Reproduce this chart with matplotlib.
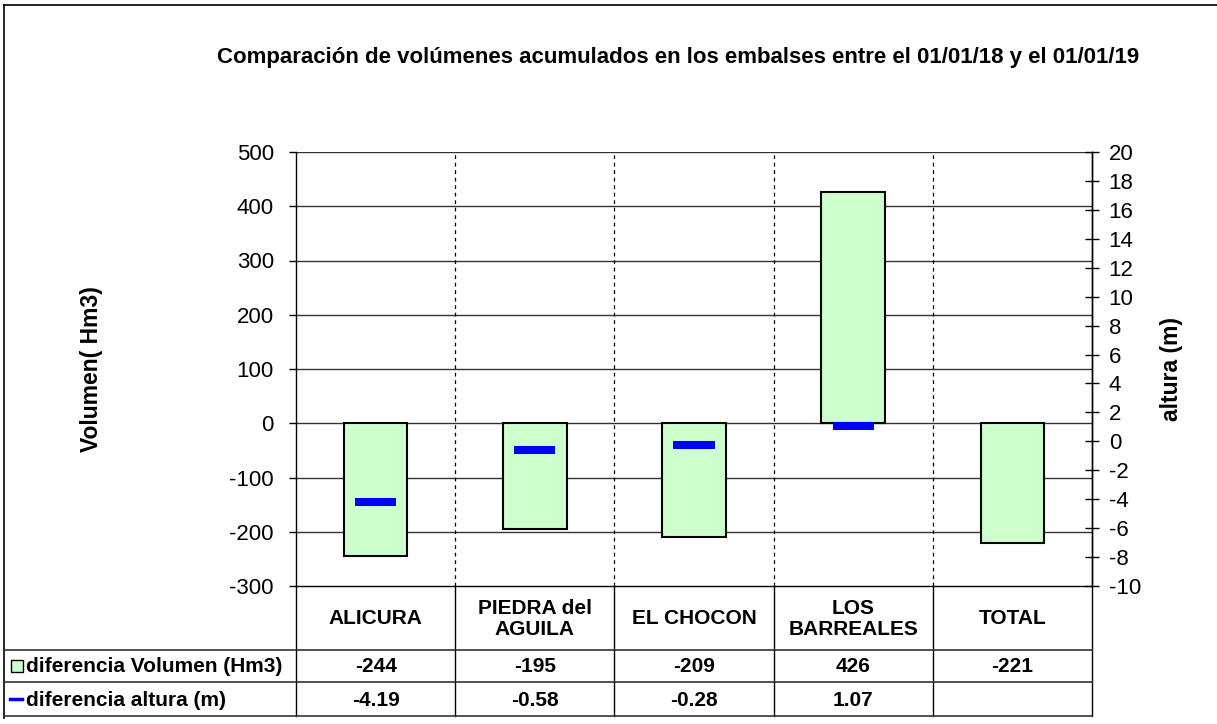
import matplotlib
matplotlib.use("Agg")
import matplotlib.pyplot as plt
from matplotlib.patches import Rectangle
from matplotlib.lines import Line2D

plt.rcParams['font.family'] = ['Liberation Sans', 'DejaVu Sans']
plt.rcParams['axes.unicode_minus'] = False

categories = ["ALICURA", "PIEDRA del\nAGUILA", "EL CHOCON", "LOS\nBARREALES", "TOTAL"]
volumen = [-244, -195, -209, 426, -221]
altura = [-4.19, -0.58, -0.28, 1.07, None]
vol_labels = ["-244", "-195", "-209", "426", "-221"]
alt_labels = ["-4.19", "-0.58", "-0.28", "1.07", ""]
row_labels = ["diferencia Volumen (Hm3)", "diferencia altura (m)"]
title = "Comparación de volúmenes acumulados en los embalses entre el 01/01/18 y el 01/01/19"

W, H = 1217, 724
fig = plt.figure(figsize=(W / 100, H / 100), dpi=100)

def fx(px):
    return px / W

def fy(py):
    return 1 - py / H

# outer frame
fig.add_artist(Line2D([fx(4), fx(4)], [fy(5), fy(718)], color='black', lw=1.2))
fig.add_artist(Line2D([fx(4), 1], [fy(5), fy(5)], color='black', lw=1.2))

x0, x1, ytop, ybot = 296, 1092, 152, 586
ax = fig.add_axes([fx(x0), fy(ybot), fx(x1 - x0), (ybot - ytop) / H])
n = len(categories)
xs = list(range(n))
ax.set_xlim(-0.5, n - 0.5)
ax.set_ylim(-300, 500)
ax.set_yticks(range(-300, 501, 100))
ax.set_xticks([])
ax.tick_params(axis='y', direction='out', length=5, width=1, labelsize=16, pad=11)
ax.spines['top'].set_visible(False)
for s in ['left', 'bottom', 'right']:
    ax.spines[s].set_linewidth(1.0)
ax.set_axisbelow(True)
for v in range(-200, 501, 100):
    ax.axhline(v, color='#333333', lw=1.0, zorder=0)
for b in [i + 0.5 for i in range(n - 1)]:
    ax.axvline(b, color='black', lw=0.9, ls=(0, (3, 3)), zorder=0)

ax.bar(xs, volumen, width=0.4, color='#CCFFCC', edgecolor='black', lw=1.5, zorder=2)

ax2 = ax.twinx()
ax2.set_ylim(-10, 20)
ax2.set_yticks(range(-10, 21, 2))
ax2.tick_params(axis='y', direction='inout', length=10, width=1, labelsize=16, pad=7)
for s in ['top', 'left', 'bottom']:
    ax2.spines[s].set_visible(False)
ax2.spines['right'].set_linewidth(1.0)
for x, a in zip(xs, altura):
    if a is not None:
        ax2.hlines(a, x - 0.13, x + 0.13, color='#0000FF', lw=5.8, zorder=3)

ax.set_ylabel("Volumen( Hm3)", fontsize=16.5, fontweight='bold', labelpad=0)
ax.yaxis.set_label_coords((103 - x0) / (x1 - x0), 0.5)
ax2.set_ylabel("altura (m)", fontsize=16.5, fontweight='bold')
ax2.yaxis.set_label_coords((1160 - x0) / (x1 - x0), 0.5)

fig.text(fx(678), fy(58), title, ha='center', va='center', fontsize=16, fontweight='bold')

# data table
axh = ybot - ytop
def ay(py):
    return (ybot - py) / axh

tr = ax.get_xaxis_transform()
rows_y = [650, 682, 716]
for py in rows_y:
    fig.add_artist(Line2D([fx(4), fx(x1)], [fy(py), fy(py)], color='#333333', lw=1.2))
for b in [i - 0.5 for i in range(n + 1)]:
    ax.plot([b, b], [0, ay(716)], transform=tr, color='black', lw=1.0, clip_on=False)

tfs = 15
for x, c in zip(xs, categories):
    ax.text(x, ay(619), c, transform=tr, ha='center', va='center', fontsize=tfs,
            fontweight='bold', linespacing=1.1)
for x, t in zip(xs, vol_labels):
    ax.text(x, ay(667), t, transform=tr, ha='center', va='center', fontsize=tfs, fontweight='bold')
for x, t in zip(xs, alt_labels):
    ax.text(x, ay(700), t, transform=tr, ha='center', va='center', fontsize=tfs, fontweight='bold')

fig.text(fx(26), fy(667), row_labels[0], ha='left', va='center', fontsize=tfs, fontweight='bold')
fig.text(fx(26), fy(700), row_labels[1], ha='left', va='center', fontsize=tfs, fontweight='bold')
fig.add_artist(Rectangle((fx(11), fy(672)), fx(12), 12 / H, facecolor='#CCFFCC',
                         edgecolor='black', lw=1.0))
fig.add_artist(Line2D([fx(10), fx(22)], [fy(699), fy(699)], color='#0000FF', lw=2.5))

fig.savefig("out.png", dpi=100)
